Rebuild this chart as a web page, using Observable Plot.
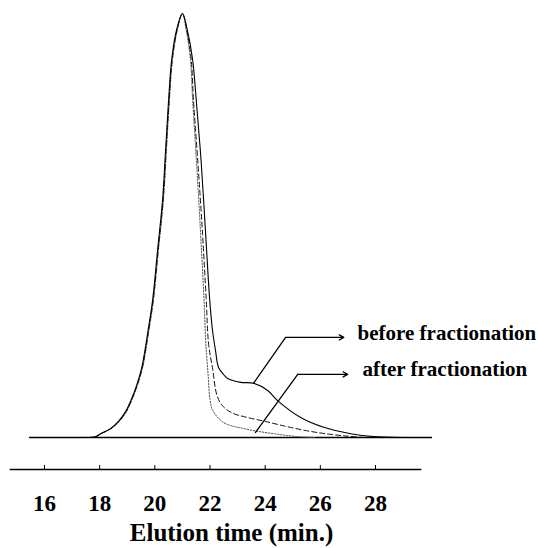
<!DOCTYPE html>
<html>
<head>
<meta charset="utf-8">
<script src="https://cdn.jsdelivr.net/npm/d3@7"></script>
<script src="https://cdn.jsdelivr.net/npm/@observablehq/plot@0.6"></script>
<style>
  html, body { margin: 0; padding: 0; background: #fff; }
</style>
</head>
<body>
<div id="chart"></div>
<script>
// ---- data (elution time in min, normalised detector response) ----
const xTicks = [16, 18, 20, 22, 24, 26, 28];
const xLabel = "Elution time (min.)";

// rising (left) flank
const riseT = [17.49, 17.85, 18.03, 18.39, 18.68, 18.94, 19.16, 19.34, 19.52, 19.63, 19.74, 19.92, 20.10, 20.28, 20.39, 20.50, 20.61, 20.79, 21.0];
const riseV = [0, 0.002, 0.009, 0.021, 0.038, 0.061, 0.092, 0.123, 0.163, 0.201, 0.246, 0.324, 0.442, 0.560, 0.678, 0.797, 0.891, 0.962, 1.0];

// falling flanks
const solidFallT = [21.18, 21.37, 21.5, 21.68, 21.84, 21.99, 22.09, 22.2, 22.31, 22.5, 22.64, 23.11, 23.58, 24.09, 24.45, 25.29, 26.12, 27.1, 27.93, 29.0];
const solidFallV = [0.96, 0.891, 0.797, 0.65, 0.482, 0.324, 0.253, 0.205, 0.165, 0.148, 0.139, 0.130, 0.128, 0.111, 0.087, 0.047, 0.024, 0.009, 0.002, 0];

const dashedFallT = [21.16, 21.32, 21.4, 21.57, 21.73, 21.86, 21.95, 22.1, 22.25, 22.45, 22.8, 23.3, 24.0, 24.7, 25.5, 26.3, 27.0, 27.6];
const dashedFallV = [0.96, 0.891, 0.797, 0.64, 0.48, 0.33, 0.22, 0.16, 0.10, 0.075, 0.058, 0.048, 0.038, 0.027, 0.016, 0.008, 0.003, 0];

const dottedFallT = [21.14, 21.29, 21.37, 21.52, 21.66, 21.78, 21.85, 21.93, 22.0, 22.1, 22.5, 23.3, 24.3, 25.2, 25.8];
const dottedFallV = [0.96, 0.891, 0.797, 0.64, 0.48, 0.33, 0.22, 0.15, 0.09, 0.064, 0.035, 0.02, 0.009, 0.002, 0];

const baselineX = [15.46, 30.07];

// annotations
const labels = ["before fractionation", "after fractionation"];
const labelT = [27.35, 27.53];
const labelV = [0.246, 0.161];
const leaderT = [[23.58, 24.74], [23.65, 25.18]];
const leaderV = [[0.128, 0.236], [0.012, 0.149]];
const arrowEndT = [26.85, 26.99];

// ---- build tables ----
const toRows = (T, V) => T.map((t, i) => ({t, v: V[i]}));
const rise = toRows(riseT, riseV);
const solid = rise.concat(toRows(solidFallT, solidFallV));
const dashed = rise.map(d => ({t: d.t + 0.02, v: d.v})).slice(0, -1).concat([{t: 21.0, v: 1.0}], toRows(dashedFallT, dashedFallV));
const dotted = rise.map(d => ({t: d.t + 0.03, v: d.v})).slice(0, -1).concat([{t: 21.0, v: 1.0}], toRows(dottedFallT, dottedFallV));
const leaders = leaderT.flatMap((T, k) => T.map((t, i) => ({k, t, v: leaderV[k][i]})));
const arrows = leaderT.map((T, k) => ({x1: T[1], y1: leaderV[k][1], x2: arrowEndT[k], y2: leaderV[k][1]}));
const labelRows = labels.map((s, i) => ({s, t: labelT[i], v: labelV[i]}));

const serif = "'Liberation Serif', 'Times New Roman', 'DejaVu Serif', serif";

const chart = Plot.plot({
  width: 538,
  height: 548,
  marginLeft: 10,
  marginRight: 118,
  marginTop: 0,
  marginBottom: 79,
  style: {fontFamily: serif, background: "#fff", color: "#000", overflow: "visible"},
  x: {domain: [16, 28], range: [44, 375]},
  y: {domain: [0, 1], range: [437, 13], axis: null},
  marks: [
    Plot.frame({anchor: "bottom", stroke: "#000", strokeWidth: 1.6}),
    Plot.axisX(xTicks, {
      anchor: "bottom", tickSize: -4, tickPadding: 29, stroke: "#000",
      fontSize: 23, fontWeight: "bold", fill: "#000", label: null
    }),
    Plot.text([xLabel], {
      text: d => d, frameAnchor: "bottom", lineAnchor: "middle", dx: 16, dy: 63,
      fontSize: 25, fontWeight: "bold", fill: "#000"
    }),
    Plot.ruleY([0], {x1: baselineX[0], x2: baselineX[1], stroke: "#000", strokeWidth: 1.4}),
    Plot.line(dotted, {x: "t", y: "v", curve: "catmull-rom", stroke: "#555", strokeWidth: 1, strokeDasharray: "1.5,1.5"}),
    Plot.line(dashed, {x: "t", y: "v", curve: "catmull-rom", stroke: "#111", strokeWidth: 1, strokeDasharray: "5,3"}),
    Plot.line(solid, {x: "t", y: "v", curve: "catmull-rom", stroke: "#000", strokeWidth: 1.1}),
    Plot.line(leaders, {x: "t", y: "v", z: "k", stroke: "#000", strokeWidth: 1.3}),
    Plot.arrow(arrows, {x1: "x1", y1: "y1", x2: "x2", y2: "y2", stroke: "#000", strokeWidth: 1.3, headLength: 6}),
    Plot.text(labelRows, {
      x: "t", y: "v", text: "s", textAnchor: "start",
      fontSize: 21, fontWeight: "bold", fill: "#000"
    })
  ]
});
document.getElementById("chart").appendChild(chart);
</script>
</body>
</html>
